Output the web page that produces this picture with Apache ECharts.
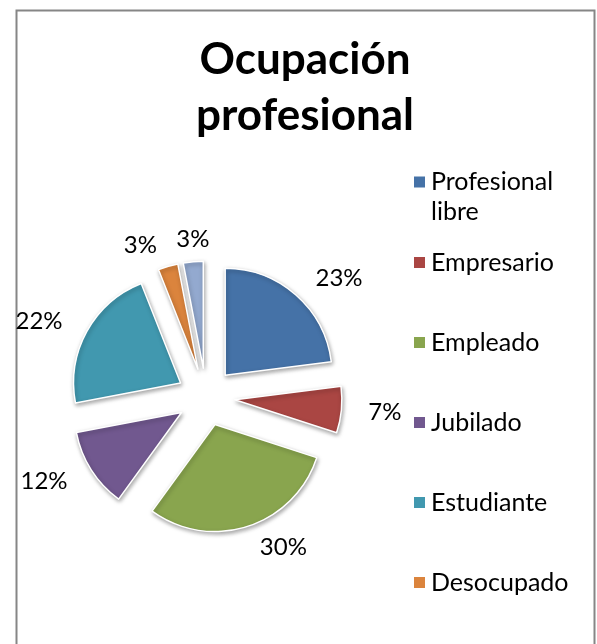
<!DOCTYPE html>
<html lang="es">
<head>
	<meta charset="UTF-8">
	<title>Ocupación profesional</title>
	<style>
		html, body { margin: 0; padding: 0; background: #fff; }
		#container { width: 597px; height: 644px; }
	</style>
</head>
<body>
	<div id="container"></div>
	<script src="https://cdn.jsdelivr.net/npm/echarts@6/dist/echarts.min.js"></script>
	<script>
		var categories = ['Profesional libre', 'Empresario', 'Empleado', 'Jubilado', 'Estudiante', 'Desocupado', 'Otros'];
		var values = [23, 7, 30, 12, 22, 3, 3];
		var colors = ['#4572A7', '#AA4643', '#89A54E', '#71588F', '#4198AF', '#DB843D', '#93A9CF'];
		var legendFirst = ['Profesional libre'];
		var legendRest = ['Empresario', 'Empleado', 'Jubilado', 'Estudiante', 'Desocupado'];

		var font = 'Lato, "Liberation Sans", sans-serif';
		var myChart = echarts.init(document.getElementById('container'));

		var pieData = categories.map(function (name, i) {
			return { name: name, value: values[i], selected: true };
		});

		// push a label to the right when it sits too close to one already placed
		var placed = [];
		function spreadLabels(p) {
			if (p.dataIndex === 0) placed = [];
			var r = p.labelRect;
			var dx = 0;
			placed.forEach(function (q) {
				var sameRow = r.y < q.y + q.height && q.y < r.y + r.height;
				if (sameRow && r.x >= q.x && r.x + dx < q.x + q.width + 14) {
					dx = q.x + q.width + 14 - r.x;
				}
			});
			placed.push({ x: r.x + dx, y: r.y, width: r.width, height: r.height });
			return { dx: dx, hideOverlap: false };
		}

		var legendBase = {
			orient: 'vertical',
			left: 407,
			icon: 'rect',
			itemWidth: 13,
			itemHeight: 13,
			selectedMode: false,
			textStyle: { fontFamily: font, fontSize: 25, color: '#000' }
		};

		var option = {
			color: colors,
			animation: false,
			title: {
				text: 'Ocupación\nprofesional',
				left: 300,
				top: 27,
				textAlign: 'center',
				textStyle: { fontFamily: font, fontSize: 44, fontWeight: 'bold', color: '#000', lineHeight: 56 }
			},
			graphic: [{
				type: 'rect',
				left: 14,
				top: 8,
				shape: { width: 578, height: 660 },
				style: { fill: 'none', stroke: '#868686', lineWidth: 2 },
				silent: true
			}],
			legend: [
				echarts.util.merge({
					top: 162,
					data: legendFirst,
					// square sits at the top of a tall icon box, so it lines up with the first text line
					icon: 'path://M0,0h13v13h-13z M0,42.99h0.01v0.01h-0.01z',
					itemHeight: 43,
					formatter: function () { return 'Profesional\nlibre'; },
					textStyle: { lineHeight: 30 }
				}, legendBase, false),
				echarts.util.merge({
					top: 245,
					itemGap: 55,
					data: legendRest
				}, legendBase, false)
			],
			series: [{
				type: 'pie',
				center: [206, 397],
				radius: 107,
				startAngle: 90,
				clockwise: true,
				selectedMode: 'multiple',
				selectedOffset: 29,
				avoidLabelOverlap: false,
				labelLayout: spreadLabels,
				emphasis: { disabled: true },
				itemStyle: {
					borderColor: '#fff',
					borderWidth: 1.5,
					shadowBlur: 4,
					shadowOffsetX: 1,
					shadowOffsetY: 2,
					shadowColor: 'rgba(0,0,0,0.35)'
				},
				label: {
					show: true,
					position: 'outside',
					formatter: '{d}%',
					fontFamily: font,
					fontSize: 24,
					color: '#000'
				},
				labelLine: { show: false, length: 22, length2: 0 },
				data: pieData
			}]
		};

		myChart.setOption(option);
	</script>
</body>
</html>
